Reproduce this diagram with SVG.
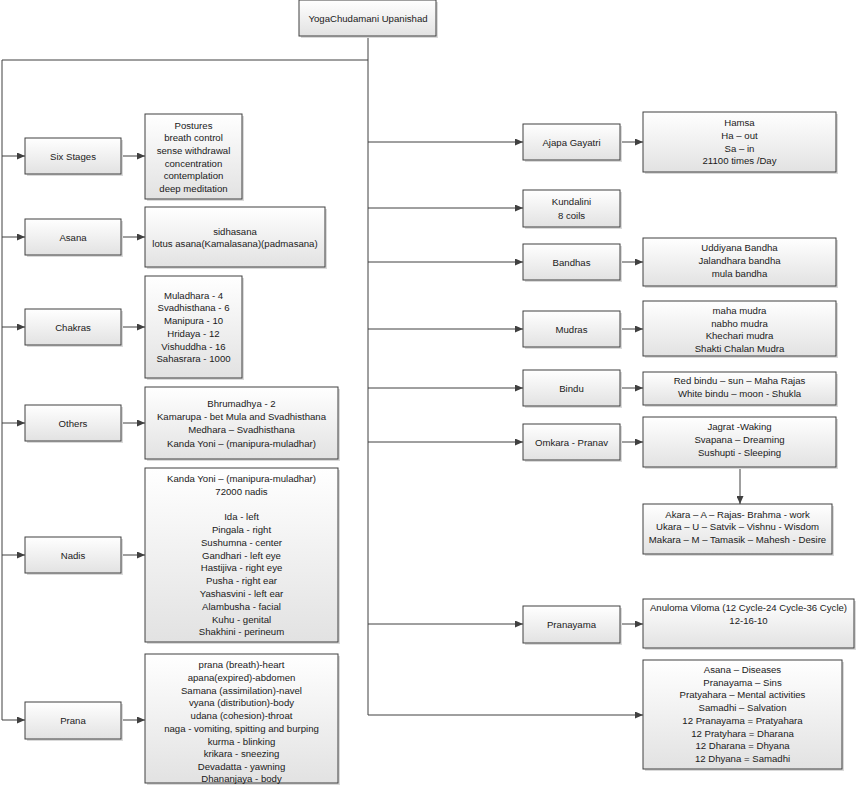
<svg xmlns="http://www.w3.org/2000/svg" width="856" height="789" viewBox="0 0 856 789">
<style>
.box{fill:url(#g);stroke:#404040;stroke-width:1}
.sh{fill:#dadada}
.t{font-family:"Liberation Sans",Arial,sans-serif;font-size:9.6px;fill:#1a1a1a;text-anchor:middle}
.c{fill:none;stroke:#404040;stroke-width:1}
.a{marker-end:url(#ar)}
</style>
<defs>
<linearGradient id="g" x1="0" y1="0" x2="0" y2="1">
<stop offset="0" stop-color="#ffffff"/>
<stop offset="1" stop-color="#e2e2e2"/>
</linearGradient>
<marker id="ar" markerUnits="userSpaceOnUse" markerWidth="8" markerHeight="7" refX="8" refY="3.5" orient="auto">
<path d="M0,0 L8,3.5 L0,7 z" fill="#404040"/>
</marker>
</defs>
<rect width="856" height="789" fill="#ffffff"/>

<g id="connectors">
<path class="c" d="M368,36 V715"/>
<path class="c a" d="M368,715 H643"/>
<path class="c" d="M368,60 H2 V720"/>
<path class="c a" d="M2,720 H25"/>
<path class="c a" d="M2,156 H25"/>
<path class="c a" d="M2,237 H25"/>
<path class="c a" d="M2,327 H25"/>
<path class="c a" d="M2,423 H25"/>
<path class="c a" d="M2,555 H25"/>
<path class="c a" d="M121,156 H145"/>
<path class="c a" d="M121,237 H145"/>
<path class="c a" d="M121,327 H145"/>
<path class="c a" d="M121,423 H145"/>
<path class="c a" d="M121,555 H145"/>
<path class="c a" d="M121,720 H145"/>
<path class="c a" d="M368,142 H523"/>
<path class="c a" d="M368,208 H523"/>
<path class="c a" d="M368,262 H523"/>
<path class="c a" d="M368,329 H523"/>
<path class="c a" d="M368,388 H523"/>
<path class="c a" d="M368,442 H523"/>
<path class="c a" d="M368,624 H523"/>
<path class="c a" d="M620,142 H643"/>
<path class="c a" d="M620,262 H643"/>
<path class="c a" d="M620,329 H643"/>
<path class="c a" d="M620,388 H643"/>
<path class="c a" d="M620,442 H643"/>
<path class="c a" d="M620,624 H643"/>
<path class="c a" d="M740,467 V504"/>
</g>

<g id="root">
<rect class="sh" x="301" y="2" width="137" height="36"/>
<rect class="box" x="299" y="0" width="137" height="36"/>
<text class="t" x="368" y="21.5">YogaChudamani Upanishad</text>
</g>

<g id="six-stages">
<rect class="sh" x="27" y="140" width="96" height="36"/>
<rect class="box" x="25" y="138" width="96" height="36"/>
<text class="t" x="73" y="159.5">Six Stages</text>
</g>
<g id="six-stages-detail">
<rect class="sh" x="147" y="116" width="97" height="85"/>
<rect class="box" x="145" y="114" width="97" height="85"/>
<text class="t" x="193.5"><tspan x="193.5" y="128.5">Postures</tspan><tspan x="193.5" y="141">breath control</tspan><tspan x="193.5" y="154">sense withdrawal</tspan><tspan x="193.5" y="166.5">concentration</tspan><tspan x="193.5" y="179">contemplation</tspan><tspan x="193.5" y="191.5">deep meditation</tspan></text>
</g>

<g id="asana">
<rect class="sh" x="27" y="221" width="96" height="36"/>
<rect class="box" x="25" y="219" width="96" height="36"/>
<text class="t" x="73" y="240.5">Asana</text>
</g>
<g id="asana-detail">
<rect class="sh" x="147" y="209" width="180" height="60"/>
<rect class="box" x="145" y="207" width="180" height="60"/>
<text class="t" x="235"><tspan x="235" y="234.5">sidhasana</tspan><tspan x="235" y="247">lotus asana(Kamalasana)(padmasana)</tspan></text>
</g>

<g id="chakras">
<rect class="sh" x="27" y="311" width="96" height="36"/>
<rect class="box" x="25" y="309" width="96" height="36"/>
<text class="t" x="73" y="330.5">Chakras</text>
</g>
<g id="chakras-detail">
<rect class="sh" x="147" y="278" width="97" height="102"/>
<rect class="box" x="145" y="276" width="97" height="102"/>
<text class="t" x="193.5"><tspan x="193.5" y="298.5">Muladhara - 4</tspan><tspan x="193.5" y="311">Svadhisthana - 6</tspan><tspan x="193.5" y="324">Manipura - 10</tspan><tspan x="193.5" y="336.5">Hridaya - 12</tspan><tspan x="193.5" y="349.5">Vishuddha - 16</tspan><tspan x="193.5" y="362">Sahasrara - 1000</tspan></text>
</g>

<g id="others">
<rect class="sh" x="27" y="407" width="96" height="36"/>
<rect class="box" x="25" y="405" width="96" height="36"/>
<text class="t" x="73" y="426.5">Others</text>
</g>
<g id="others-detail">
<rect class="sh" x="147" y="389" width="193" height="72"/>
<rect class="box" x="145" y="387" width="193" height="72"/>
<text class="t" x="241.5"><tspan x="241.5" y="407">Bhrumadhya - 2</tspan><tspan x="241.5" y="420">Kamarupa - bet Mula and Svadhisthana</tspan><tspan x="241.5" y="432.5">Medhara – Svadhisthana</tspan><tspan x="241.5" y="447">Kanda Yoni – (manipura-muladhar)</tspan></text>
</g>

<g id="nadis">
<rect class="sh" x="27" y="539" width="96" height="36"/>
<rect class="box" x="25" y="537" width="96" height="36"/>
<text class="t" x="73" y="558.5">Nadis</text>
</g>
<g id="nadis-detail">
<rect class="sh" x="147" y="470" width="193" height="174"/>
<rect class="box" x="145" y="468" width="193" height="174"/>
<text class="t" x="241.5"><tspan x="241.5" y="482">Kanda Yoni – (manipura-muladhar)</tspan><tspan x="241.5" y="495">72000 nadis</tspan><tspan x="241.5" y="520">Ida  - left</tspan><tspan x="241.5" y="533">Pingala - right</tspan><tspan x="241.5" y="546">Sushumna - center</tspan><tspan x="241.5" y="558.5">Gandhari - left eye</tspan><tspan x="241.5" y="571">Hastijiva - right eye</tspan><tspan x="241.5" y="584">Pusha - right ear</tspan><tspan x="241.5" y="597">Yashasvini - left ear</tspan><tspan x="241.5" y="609.5">Alambusha -  facial</tspan><tspan x="241.5" y="622.5">Kuhu -  genital</tspan><tspan x="241.5" y="635">Shakhini - perineum</tspan></text>
</g>

<g id="prana">
<rect class="sh" x="27" y="704" width="96" height="37"/>
<rect class="box" x="25" y="702" width="96" height="37"/>
<text class="t" x="73" y="723.5">Prana</text>
</g>
<g id="prana-detail">
<rect class="sh" x="147" y="656" width="193" height="129"/>
<rect class="box" x="145" y="654" width="193" height="129"/>
<text class="t" x="241.5"><tspan x="241.5" y="668">prana (breath)-heart</tspan><tspan x="241.5" y="680.5">apana(expired)-abdomen</tspan><tspan x="241.5" y="693.5">Samana (assimilation)-navel</tspan><tspan x="241.5" y="706">vyana (distribution)-body</tspan><tspan x="241.5" y="719">udana (cohesion)-throat</tspan><tspan x="241.5" y="732">naga - vomiting, spitting and burping</tspan><tspan x="241.5" y="744.5">kurma - blinking</tspan><tspan x="241.5" y="757">krikara - sneezing</tspan><tspan x="241.5" y="770">Devadatta - yawning</tspan><tspan x="241.5" y="782">Dhananjaya - body</tspan></text>
</g>

<g id="ajapa-gayatri">
<rect class="sh" x="525" y="126" width="97" height="36"/>
<rect class="box" x="523" y="124" width="97" height="36"/>
<text class="t" x="571.5" y="145.5">Ajapa Gayatri</text>
</g>
<g id="ajapa-detail">
<rect class="sh" x="645" y="114" width="193" height="60"/>
<rect class="box" x="643" y="112" width="193" height="60"/>
<text class="t" x="739.5"><tspan x="739.5" y="126">Hamsa</tspan><tspan x="739.5" y="138.5">Ha – out</tspan><tspan x="739.5" y="151.5">Sa – in</tspan><tspan x="739.5" y="164">21100 times /Day</tspan></text>
</g>

<g id="kundalini">
<rect class="sh" x="525" y="192" width="97" height="37"/>
<rect class="box" x="523" y="190" width="97" height="37"/>
<text class="t" x="571.5"><tspan x="571.5" y="205">Kundalini</tspan><tspan x="571.5" y="218.5">8 coils</tspan></text>
</g>

<g id="bandhas">
<rect class="sh" x="525" y="246" width="97" height="36"/>
<rect class="box" x="523" y="244" width="97" height="36"/>
<text class="t" x="571.5" y="265.5">Bandhas</text>
</g>
<g id="bandhas-detail">
<rect class="sh" x="645" y="240" width="193" height="48"/>
<rect class="box" x="643" y="238" width="193" height="48"/>
<text class="t" x="739.5"><tspan x="739.5" y="250.5">Uddiyana Bandha</tspan><tspan x="739.5" y="263.5">Jalandhara bandha</tspan><tspan x="739.5" y="276.5">mula bandha</tspan></text>
</g>

<g id="mudras">
<rect class="sh" x="525" y="313" width="97" height="36"/>
<rect class="box" x="523" y="311" width="97" height="36"/>
<text class="t" x="571.5" y="332.5">Mudras</text>
</g>
<g id="mudras-detail">
<rect class="sh" x="645" y="303" width="193" height="55"/>
<rect class="box" x="643" y="301" width="193" height="55"/>
<text class="t" x="739.5"><tspan x="739.5" y="313.5">maha mudra</tspan><tspan x="739.5" y="326.5">nabho mudra</tspan><tspan x="739.5" y="339">Khechari mudra</tspan><tspan x="739.5" y="351.5">Shakti Chalan Mudra</tspan></text>
</g>

<g id="bindu">
<rect class="sh" x="525" y="372" width="97" height="36"/>
<rect class="box" x="523" y="370" width="97" height="36"/>
<text class="t" x="571.5" y="391.5">Bindu</text>
</g>
<g id="bindu-detail">
<rect class="sh" x="645" y="374" width="193" height="33"/>
<rect class="box" x="643" y="372" width="193" height="33"/>
<text class="t" x="739.5"><tspan x="739.5" y="384">Red bindu – sun – Maha Rajas</tspan><tspan x="739.5" y="397">White bindu – moon - Shukla</tspan></text>
</g>

<g id="omkara">
<rect class="sh" x="525" y="426" width="97" height="36"/>
<rect class="box" x="523" y="424" width="97" height="36"/>
<text class="t" x="571.5" y="445.5">Omkara - Pranav</text>
</g>
<g id="omkara-detail">
<rect class="sh" x="645" y="419" width="193" height="50"/>
<rect class="box" x="643" y="417" width="193" height="50"/>
<text class="t" x="739.5"><tspan x="739.5" y="430">Jagrat -Waking</tspan><tspan x="739.5" y="442.5">Svapana – Dreaming</tspan><tspan x="739.5" y="455.5">Sushupti - Sleeping</tspan></text>
</g>
<g id="akara-detail">
<rect class="sh" x="645" y="506" width="189" height="50"/>
<rect class="box" x="643" y="504" width="189" height="50"/>
<text class="t" x="737.5"><tspan x="737.5" y="517.5">Akara – A – Rajas- Brahma - work</tspan><tspan x="737.5" y="530">Ukara – U – Satvik – Vishnu - Wisdom</tspan><tspan x="737.5" y="543">Makara – M – Tamasik – Mahesh - Desire</tspan></text>
</g>

<g id="pranayama">
<rect class="sh" x="525" y="608" width="97" height="37"/>
<rect class="box" x="523" y="606" width="97" height="37"/>
<text class="t" x="571.5" y="627.5">Pranayama</text>
</g>
<g id="pranayama-detail">
<rect class="sh" x="645" y="601" width="211" height="49"/>
<rect class="box" x="643" y="599" width="211" height="49"/>
<text class="t" x="748.5"><tspan x="748.5" y="611">Anuloma Viloma (12 Cycle-24 Cycle-36 Cycle)</tspan><tspan x="748.5" y="623.5">12-16-10</tspan></text>
</g>

<g id="results-detail">
<rect class="sh" x="645" y="662" width="199" height="109"/>
<rect class="box" x="643" y="660" width="199" height="109"/>
<text class="t" x="742.5"><tspan x="742.5" y="673">Asana – Diseases</tspan><tspan x="742.5" y="685.5">Pranayama – Sins</tspan><tspan x="742.5" y="698">Pratyahara – Mental activities</tspan><tspan x="742.5" y="711">Samadhi – Salvation</tspan><tspan x="742.5" y="723.5">12 Pranayama = Pratyahara</tspan><tspan x="742.5" y="736.5">12 Pratyhara = Dharana</tspan><tspan x="742.5" y="749">12 Dharana = Dhyana</tspan><tspan x="742.5" y="762">12 Dhyana = Samadhi</tspan></text>
</g>
</svg>
